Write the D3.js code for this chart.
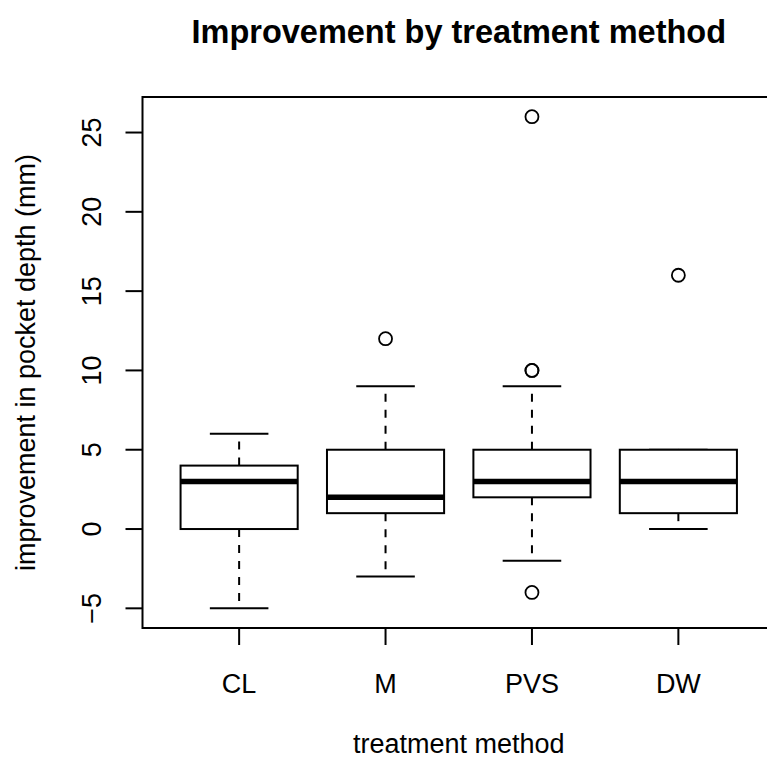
<!DOCTYPE html>
<html>
<head>
<meta charset="utf-8">
<script src="https://cdn.jsdelivr.net/npm/d3@7"></script>
<style>
  body { margin: 0; background: #fff; }
  text { font-family: "Liberation Sans", Arial, sans-serif; fill: #000; }
</style>
</head>
<body>
<div id="chart"></div>
<script>
var groups = ["CL", "M", "PVS", "DW"];
var whiskerLow = [-5, -3, -2, 0];
var q1 = [0, 1, 2, 1];
var medians = [3, 2, 3, 3];
var q3 = [4, 5, 5, 5];
var whiskerHigh = [6, 9, 9, 5];
var outliers = [[], [12], [26, 10, 10, -4], [16]];
var yTicks = [-5, 0, 5, 10, 15, 20, 25];

function drawChart() {
    var w = 767, h = 760;
    var plotLeft = 142.5, plotRight = 775, plotTop = 97, plotBottom = 628;

    var svg = d3.select("#chart")
        .append("svg")
        .attr("width", w)
        .attr("height", h);

    // R style: xlim 0.5..4.5 plus 4% on each side
    var x = d3.scaleLinear().domain([0.34, 4.66]).range([plotLeft, plotRight]);
    var y = d3.scaleLinear().domain([-6.24, 27.24]).range([plotBottom, plotTop]);

    var boxHalf = 0.4, capHalf = 0.2;

    var g = svg.append("g");

    groups.forEach(function(name, i) {
        var cx = i + 1;

        // whiskers
        g.append("line")
            .attr("x1", x(cx)).attr("x2", x(cx))
            .attr("y1", y(q3[i])).attr("y2", y(whiskerHigh[i]))
            .style("stroke", "#000").style("stroke-width", 2)
            .style("stroke-dasharray", "8,8");
        g.append("line")
            .attr("x1", x(cx)).attr("x2", x(cx))
            .attr("y1", y(q1[i])).attr("y2", y(whiskerLow[i]))
            .style("stroke", "#000").style("stroke-width", 2)
            .style("stroke-dasharray", "8,8");

        // staples
        [whiskerLow[i], whiskerHigh[i]].forEach(function(v) {
            g.append("line")
                .attr("x1", x(cx - capHalf)).attr("x2", x(cx + capHalf))
                .attr("y1", y(v)).attr("y2", y(v))
                .style("stroke", "#000").style("stroke-width", 2);
        });

        // box
        g.append("rect")
            .attr("x", x(cx - boxHalf))
            .attr("y", y(q3[i]))
            .attr("width", x(cx + boxHalf) - x(cx - boxHalf))
            .attr("height", y(q1[i]) - y(q3[i]))
            .style("fill", "#fff")
            .style("stroke", "#000").style("stroke-width", 2);

        // median
        g.append("line")
            .attr("x1", x(cx - boxHalf)).attr("x2", x(cx + boxHalf))
            .attr("y1", y(medians[i])).attr("y2", y(medians[i]))
            .style("stroke", "#000").style("stroke-width", 5.5);

        // outliers
        g.selectAll(null)
            .data(outliers[i])
            .enter()
            .append("circle")
            .attr("cx", x(cx))
            .attr("cy", function(d) { return y(d); })
            .attr("r", 6.5)
            .style("fill", "none")
            .style("stroke", "#000")
            .style("stroke-width", 1.8);
    });

    // plot frame
    svg.append("rect")
        .attr("x", plotLeft).attr("y", plotTop)
        .attr("width", plotRight - plotLeft).attr("height", plotBottom - plotTop)
        .style("fill", "none").style("stroke", "#000").style("stroke-width", 2);

    // y axis
    var yAxis = svg.append("g");
    yAxis.selectAll("line")
        .data(yTicks)
        .enter()
        .append("line")
        .attr("x1", plotLeft - 17).attr("x2", plotLeft)
        .attr("y1", function(d) { return y(d); })
        .attr("y2", function(d) { return y(d); })
        .style("stroke", "#000").style("stroke-width", 2);
    yAxis.selectAll("text")
        .data(yTicks)
        .enter()
        .append("text")
        .attr("transform", function(d) { return "translate(101," + y(d) + ") rotate(-90)"; })
        .attr("text-anchor", "middle")
        .style("font-size", "27px")
        .text(function(d) { return d < 0 ? "\u2212" + Math.abs(d) : d; });

    // x axis
    var xAxis = svg.append("g");
    xAxis.selectAll("line")
        .data(groups)
        .enter()
        .append("line")
        .attr("x1", function(d, i) { return x(i + 1); })
        .attr("x2", function(d, i) { return x(i + 1); })
        .attr("y1", plotBottom).attr("y2", plotBottom + 17)
        .style("stroke", "#000").style("stroke-width", 2);
    xAxis.selectAll("text")
        .data(groups)
        .enter()
        .append("text")
        .attr("x", function(d, i) { return x(i + 1); })
        .attr("y", 693)
        .attr("text-anchor", "middle")
        .style("font-size", "27px")
        .text(function(d) { return d; });

    // titles
    svg.append("text")
        .attr("x", (plotLeft + plotRight) / 2)
        .attr("y", 43)
        .attr("text-anchor", "middle")
        .style("font-size", "32.5px")
        .style("font-weight", "bold")
        .text("Improvement by treatment method");

    svg.append("text")
        .attr("x", (plotLeft + plotRight) / 2)
        .attr("y", 753)
        .attr("text-anchor", "middle")
        .style("font-size", "27px")
        .text("treatment method");

    svg.append("text")
        .attr("transform", "translate(35," + ((plotTop + plotBottom) / 2) + ") rotate(-90)")
        .attr("text-anchor", "middle")
        .style("font-size", "27px")
        .text("improvement in pocket depth (mm)");
}

drawChart();
</script>
</body>
</html>
